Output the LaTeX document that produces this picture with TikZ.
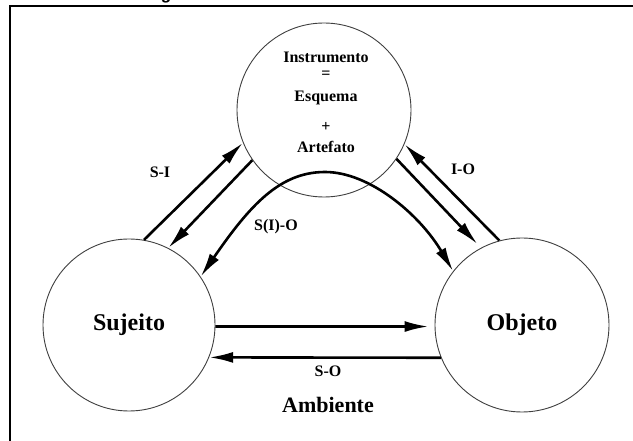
\documentclass[tikz,border=0pt]{standalone}
\usepackage{fontspec}
\setmainfont{Liberation Serif}
\newfontfamily\titlefont{Liberation Sans}
\usetikzlibrary{arrows.meta}
\begin{document}
\begin{tikzpicture}[x=1pt,y=-1pt,
  circ/.style={circle,draw=black!75,line width=0.9pt,inner sep=0pt},
  arr/.style={line width=2.6pt,-{Latex[length=24pt,width=11pt]}},
  dbl/.style={line width=2.6pt,{Latex[length=24pt,width=11pt]}-{Latex[length=24pt,width=11pt]}},
  txt/.style={font=\bfseries\fontsize{16}{18}\selectfont,inner sep=0pt},
  big/.style={font=\bfseries\fontsize{24}{28}\selectfont}]
\useasboundingbox (0,0) rectangle (633,441);
\clip (0,0) rectangle (633,441);
\fill[white] (0,0) rectangle (633,441);
% title fragment and frame
\node[anchor=base,inner sep=0pt,font=\titlefont\bfseries\fontsize{17}{20}\selectfont] (ttl) at (166,0) {g};
\draw[line width=2pt] (10,441) -- (10,6) -- (640,6);
% circles
\node[circ,minimum size=174pt] (instr) at (324,110) {};
\node[circ,minimum size=172pt,big] (suj) at (129,325) {Sujeito};
\node[circ,minimum size=174pt,big] (obj) at (522,325) {Objeto};
% instrument text
\node[txt] (t1) at (326,57) {Instrumento};
\node[txt] (t2) at (326,75) {=};
\node[txt] (t3) at (326,98) {Esquema};
\node[txt] (t4) at (326,127) {+};
\node[txt] (t5) at (326,147) {Artefato};
% arrows
\draw[arr] (suj.80) -- (instr.202.5);
\draw[arr] (instr.215) -- (suj.63);
\draw[arr] (obj.105) -- (instr.-23.6);
\draw[arr,shorten >=5pt] (instr.-34.4) -- (obj.118);
\draw[arr,shorten >=6pt] (suj.-1) -- (obj.181);
\draw[arr] (obj.202) -- (suj.-22);
\coordinate (peak) at (325,172);
\draw[dbl] (suj.34) .. controls (250,205) and (280,172) .. (peak)
  .. controls (370,172) and (420,215) .. (obj.142);
% labels
\node[txt] (lsi) at (160,172) {S-I};
\node[txt] (lsio) at (276,227) {S(I)-O};
\node[txt] (lio) at (463,169) {I-O};
\node[txt] (lso) at (328,371) {S-O};
\node[big,font=\bfseries\fontsize{22}{26}\selectfont] (amb) at (328,405) {Ambiente};
\end{tikzpicture}
\end{document}
